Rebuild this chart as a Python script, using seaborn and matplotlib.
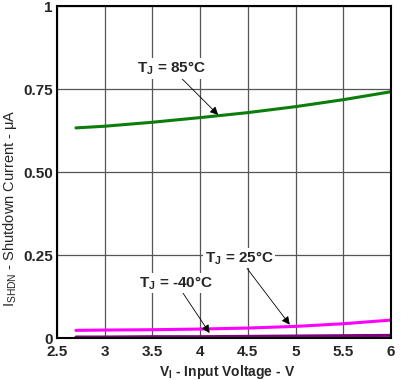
import matplotlib
matplotlib.use("Agg")
import matplotlib.pyplot as plt
import seaborn as sns
import pandas as pd

voltage = [2.7, 3.0, 3.5, 4.0, 4.5, 5.0, 5.5, 6.0]
i_85 = [0.633, 0.638, 0.650, 0.664, 0.679, 0.697, 0.718, 0.742]
i_25 = [0.023, 0.024, 0.025, 0.027, 0.030, 0.035, 0.043, 0.054]
i_m40 = [0.003, 0.003, 0.004, 0.004, 0.005, 0.006, 0.007, 0.008]

x_ticks = [2.5, 3, 3.5, 4, 4.5, 5, 5.5, 6]
x_tick_labels = ["2.5", "3", "3.5", "4", "4.5", "5", "5.5", "6"]
y_ticks = [0, 0.25, 0.5, 0.75, 1]
y_tick_labels = ["0", "0.25", "0.50", "0.75", "1"]

sns.set_style("white")
plt.rcParams['font.family'] = ['Liberation Sans', 'DejaVu Sans']

df = pd.DataFrame({"V": voltage * 3,
                   "I": i_85 + i_25 + i_m40,
                   "T": ["85"] * len(voltage) + ["25"] * len(voltage) + ["-40"] * len(voltage)})

fig = plt.figure(figsize=(4.06, 3.80), dpi=100)
ax = fig.add_axes([0.140, 0.1105, 0.823, 0.8735])

palette = {"85": "#0a7d0a", "25": "#ff00ff", "-40": "#800080"}
sns.lineplot(data=df, x="V", y="I", hue="T", palette=palette, linewidth=2.2,
             ax=ax, legend=False)

ax.set_xlim(2.5, 6)
ax.set_ylim(0, 1)
ax.set_xticks(x_ticks)
ax.set_xticklabels(x_tick_labels, fontsize=11, fontweight='bold')
ax.set_yticks(y_ticks)
ax.set_yticklabels(y_tick_labels, fontsize=11, fontweight='bold')
ax.tick_params(axis='x', length=0, pad=5)
ax.tick_params(axis='y', length=0, pad=3)
ax.grid(True, color='#555555', linewidth=0.9)
ax.set_axisbelow(True)
for s in ax.spines.values():
    s.set_color('black')
    s.set_linewidth(1.5)

ax.set_xlabel(r"V$_\mathregular{I}$ - Input Voltage - V", fontsize=10, fontweight='bold')
ax.xaxis.set_label_coords(0.51, -0.075)
ax.set_ylabel(r"I$_\mathregular{SHDN}$ - Shutdown Current - $\mathregular{\mu}$A", fontsize=10.5)
ax.yaxis.set_label_coords(-0.112, 0.39)

arrow = dict(arrowstyle='-|>', color='black', lw=0.6, mutation_scale=12, shrinkA=0, shrinkB=0)
box = dict(boxstyle='square,pad=0.1', fc='white', ec='none')
ax.annotate(r"T$_\mathregular{J}$ = 85°C", xy=(4.19, 0.672), xytext=(3.70, 0.813),
            ha='center', va='center', fontsize=11, fontweight='bold',
            bbox=box, arrowprops=arrow)
ax.annotate(r"T$_\mathregular{J}$ = 25°C", xy=(4.94, 0.040), xytext=(4.41, 0.241),
            ha='center', va='center', fontsize=11, fontweight='bold',
            bbox=box, arrowprops=arrow)
ax.annotate(r"T$_\mathregular{J}$ = -40°C", xy=(4.10, 0.015), xytext=(3.75, 0.166),
            ha='center', va='center', fontsize=11, fontweight='bold',
            bbox=box, arrowprops=arrow)

fig.savefig("out.png", dpi=100)
